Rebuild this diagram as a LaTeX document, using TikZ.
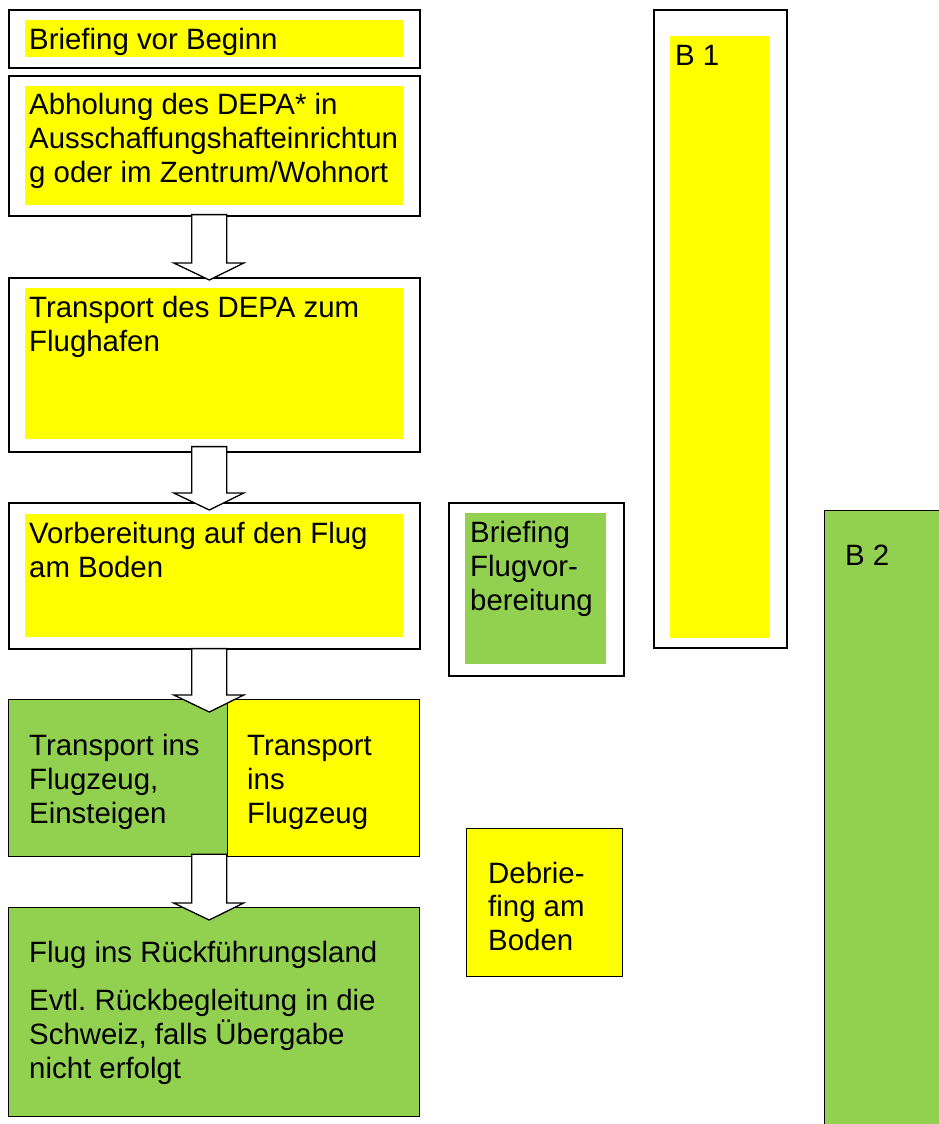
\documentclass[tikz,border=0pt]{standalone}
\usepackage{fontspec}
\setmainfont{Liberation Sans}
\usetikzlibrary{calc}
\frenchspacing
\definecolor{hlyellow}{HTML}{FFFF00}
\definecolor{hlgreen}{HTML}{92D050}
\tikzset{
 outerbox/.style={draw=black, line width=1.6pt, fill=white, rectangle, inner sep=0pt, anchor=north west},
 fillbox/.style={fill=#1, draw=none, inner sep=0pt, anchor=north west, rectangle},
 solidbox/.style={fill=#1, draw=black, line width=1.3pt, inner sep=0pt, anchor=north west, rectangle},
 txt/.style={anchor=north west, inner sep=0pt, align=left, font=\fontsize{29.4}{34}\selectfont},
 blockarrow/.style={draw=black, line width=1.3pt, fill=white, line join=miter},
 sz/.style 2 args={minimum width=#1, minimum height=#2},
}
\newcommand{\fs}{\rule{0pt}{23pt}}
\newcommand{\barrow}[5]{%
 \draw[blockarrow] let \p1=(#1.south), \p2=(#2.north), \p3=(#3.south) in
  (\x3-22.5pt,\y1+#4) -- (\x3-22.5pt,\y2-#5+17pt) -- (\x3-40.5pt,\y2-#5+17pt)
  -- (\x3-5pt,\y2-#5) -- (\x3+29.5pt,\y2-#5+17pt) -- (\x3+12.5pt,\y2-#5+17pt)
  -- (\x3+12.5pt,\y1+#4) -- cycle;}
\begin{document}
\begin{tikzpicture}[x=1pt,y=-1pt]
\useasboundingbox[fill=white] (0,0) rectangle (938,1124);
% main column
\node[outerbox, sz={411}{58}] (b1) at (8,9) {};
\node[fillbox=hlyellow, sz={378}{37}] (b1f) at (25,20) {};
\node[txt] (t1) at (29,26) {\fs Briefing vor Beginn};

\node[outerbox, sz={411}{140}] (b2) at (8,75) {};
\node[fillbox=hlyellow, sz={378}{119}] (b2f) at (25,86) {};
\node[txt] (t2) at (29,91) {\fs Abholung des DEPA* in\\Ausschaffungshafteinrichtun\\g oder im Zentrum/Wohnort};

\node[outerbox, sz={411}{174}] (b3) at (8,277) {};
\node[fillbox=hlyellow, sz={378}{151}] (b3f) at (25,288) {};
\node[txt] (t3) at (29,294) {\fs Transport des DEPA zum\\Flughafen};

\node[outerbox, sz={411}{146}] (b4) at (8,502) {};
\node[fillbox=hlyellow, sz={378}{123}] (b4f) at (25,514) {};
\node[txt] (t4) at (29,520) {\fs Vorbereitung auf den Flug\\am Boden};

\node[solidbox=hlgreen, sz={219}{157}] (b5a) at (8,699) {};
\node[solidbox=hlyellow, sz={192}{157}] (b5b) at (227,699) {};
\node[txt] (t5a) at (29,732) {\fs Transport ins\\Flugzeug,\\Einsteigen};
\node[txt] (t5b) at (247,732) {\fs Transport\\ins\\Flugzeug};

\node[solidbox=hlgreen, sz={411}{209}] (b6) at (8,907) {};
\node[txt] (t6) at (29,939) {\fs Flug ins Rückführungsland\\[14pt]Evtl. Rückbegleitung in die\\Schweiz, falls Übergabe\\nicht erfolgt};

% side boxes
\node[outerbox, sz={175}{173}] (bf) at (448,502) {};
\node[fillbox=hlgreen, sz={141}{151}] (bff) at (465,513) {};
\node[txt] (tf) at (470,519) {\fs Briefing\\Flugvor-\\bereitung};

\node[outerbox, sz={133}{638}] (B1) at (653,9) {};
\node[fillbox=hlyellow, sz={99}{602}] (B1f) at (670,36) {};
\node[txt] (tB1) at (675,42) {\fs B 1};

\node[solidbox=hlgreen, sz={130}{630}] (B2) at (824,510) {};
\node[txt] (tB2) at (845,542) {\fs B 2};

\node[solidbox=hlyellow, sz={156}{148}] (db) at (466,828) {};
\node[txt, font=\fontsize{29.4}{33.5}\selectfont] (tdb) at (488,860) {\fs Debrie-\\fing am\\Boden};

% block arrows
\barrow{b2}{b3}{b2}{2pt}{3pt}
\barrow{b3}{b4}{b3}{6pt}{8pt}
\barrow{b4}{b5a}{b4}{1pt}{13pt}
\barrow{b5a}{b6}{b6}{3pt}{13pt}
\end{tikzpicture}
\end{document}
